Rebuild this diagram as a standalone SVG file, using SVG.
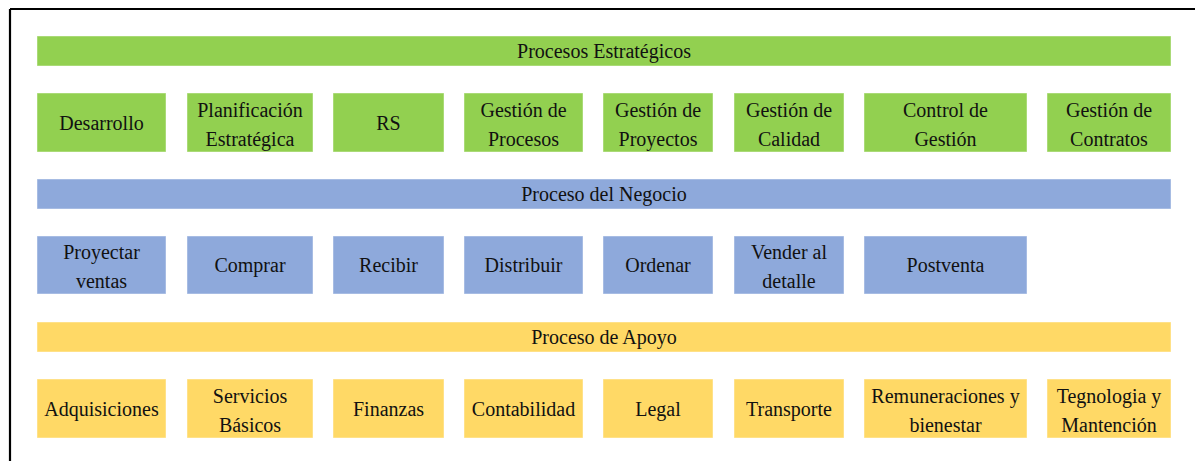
<svg xmlns="http://www.w3.org/2000/svg" width="1195" height="461" viewBox="0 0 1195 461">
<style>
text{font-family:"Liberation Serif","Times New Roman",serif;font-size:20px;fill:#111;text-anchor:middle}
.g{fill:#92D050}
.b{fill:#8EA9DB}
.y{fill:#FFD966}
rect{stroke:#ffffff;stroke-opacity:0.45;stroke-width:1}
</style>
<rect x="0" y="0" width="1195" height="461" fill="#ffffff" stroke="none"/>
<path d="M10,9 H1195 M10,9 V461" fill="none" stroke="#000" stroke-width="2.2"/>
<g id="connectors"/>
<g id="banner-estrategicos"><rect class="g" x="37" y="36" width="1134" height="30"/><text x="604" y="58">Procesos Estratégicos</text></g>
<g id="n-desarrollo"><rect class="g" x="37" y="93" width="129" height="59"/><text x="101.5" y="129.5">Desarrollo</text></g>
<g id="n-planificacion"><rect class="g" x="187" y="93" width="126" height="59"/><text x="250" y="116.5">Planificación</text><text x="250" y="145.5">Estratégica</text></g>
<g id="n-rs"><rect class="g" x="333" y="93" width="111" height="59"/><text x="388.5" y="129.5">RS</text></g>
<g id="n-gprocesos"><rect class="g" x="464" y="93" width="119" height="59"/><text x="523.5" y="116.5">Gestión de</text><text x="523.5" y="145.5">Procesos</text></g>
<g id="n-gproyectos"><rect class="g" x="603" y="93" width="110" height="59"/><text x="658" y="116.5">Gestión de</text><text x="658" y="145.5">Proyectos</text></g>
<g id="n-gcalidad"><rect class="g" x="734" y="93" width="110" height="59"/><text x="789" y="116.5">Gestión de</text><text x="789" y="145.5">Calidad</text></g>
<g id="n-control"><rect class="g" x="864" y="93" width="163" height="59"/><text x="945.5" y="116.5">Control de</text><text x="945.5" y="145.5">Gestión</text></g>
<g id="n-gcontratos"><rect class="g" x="1047" y="93" width="124" height="59"/><text x="1109" y="116.5">Gestión de</text><text x="1109" y="145.5">Contratos</text></g>

<g id="banner-negocio"><rect class="b" x="37" y="179" width="1134" height="30"/><text x="604" y="201">Proceso del Negocio</text></g>
<g id="n-proyectar"><rect class="b" x="37" y="236" width="129" height="58"/><text x="101.5" y="259">Proyectar</text><text x="101.5" y="288">ventas</text></g>
<g id="n-comprar"><rect class="b" x="187" y="236" width="126" height="58"/><text x="250" y="272">Comprar</text></g>
<g id="n-recibir"><rect class="b" x="333" y="236" width="111" height="58"/><text x="388.5" y="272">Recibir</text></g>
<g id="n-distribuir"><rect class="b" x="464" y="236" width="119" height="58"/><text x="523.5" y="272">Distribuir</text></g>
<g id="n-ordenar"><rect class="b" x="603" y="236" width="110" height="58"/><text x="658" y="272">Ordenar</text></g>
<g id="n-vender"><rect class="b" x="734" y="236" width="110" height="58"/><text x="789" y="259">Vender al</text><text x="789" y="288">detalle</text></g>
<g id="n-postventa"><rect class="b" x="864" y="236" width="163" height="58"/><text x="945.5" y="272">Postventa</text></g>

<g id="banner-apoyo"><rect class="y" x="37" y="322" width="1134" height="30"/><text x="604" y="344">Proceso de Apoyo</text></g>
<g id="n-adquisiciones"><rect class="y" x="37" y="379" width="129" height="59"/><text x="101.5" y="415.5">Adquisiciones</text></g>
<g id="n-servicios"><rect class="y" x="187" y="379" width="126" height="59"/><text x="250" y="402.5">Servicios</text><text x="250" y="431.5">Básicos</text></g>
<g id="n-finanzas"><rect class="y" x="333" y="379" width="111" height="59"/><text x="388.5" y="415.5">Finanzas</text></g>
<g id="n-contabilidad"><rect class="y" x="464" y="379" width="119" height="59"/><text x="523.5" y="415.5">Contabilidad</text></g>
<g id="n-legal"><rect class="y" x="603" y="379" width="110" height="59"/><text x="658" y="415.5">Legal</text></g>
<g id="n-transporte"><rect class="y" x="734" y="379" width="110" height="59"/><text x="789" y="415.5">Transporte</text></g>
<g id="n-remuneraciones"><rect class="y" x="864" y="379" width="163" height="59"/><text x="945.5" y="402.5">Remuneraciones y</text><text x="945.5" y="431.5">bienestar</text></g>
<g id="n-tegnologia"><rect class="y" x="1047" y="379" width="124" height="59"/><text x="1109" y="402.5">Tegnologia y</text><text x="1109" y="431.5">Mantención</text></g>
</svg>
